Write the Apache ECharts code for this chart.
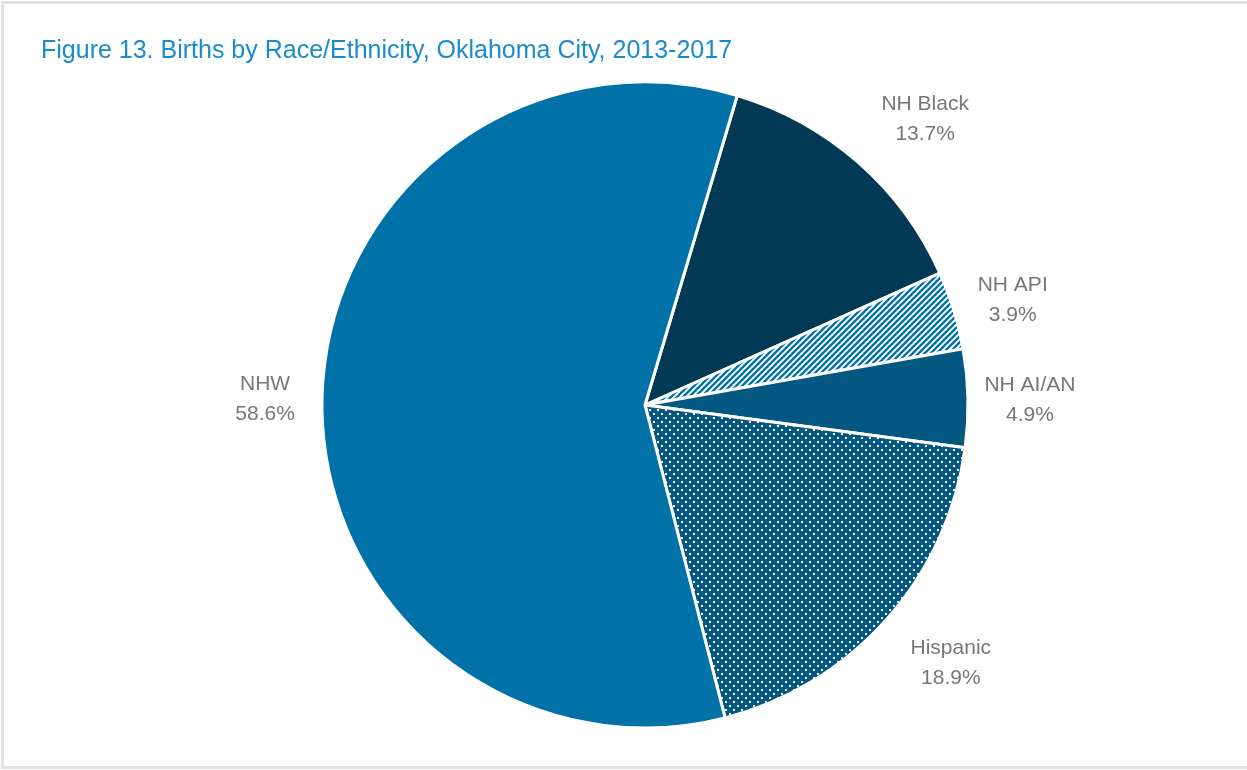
<!DOCTYPE html>
<html><head><meta charset="utf-8">
<script src="https://cdn.jsdelivr.net/npm/echarts@6/dist/echarts.min.js"></script>
<style>html,body{margin:0;padding:0;background:#fff}#c{width:1247px;height:770px}</style>
</head><body><div id="c"></div>
<script>
const categories = ['NH Black', 'NH API', 'NH AI/AN', 'Hispanic', 'NHW'];
const values = [13.7, 3.9, 4.9, 18.9, 58.6];
const title = 'Figure 13. Births by Race/Ethnicity, Oklahoma City, 2013-2017';

function dotPattern(bg, fg) {
  const c = document.createElement('canvas'); c.width = 8; c.height = 8;
  const g = c.getContext('2d');
  g.fillStyle = bg; g.fillRect(0, 0, 8, 8);
  g.fillStyle = fg; g.fillRect(1, 1, 2, 2); g.fillRect(5, 5, 2, 2);
  return { image: c, repeat: 'repeat' };
}
function stripePattern(bg, fg) {
  const s = 6;
  const c = document.createElement('canvas'); c.width = s; c.height = s;
  const g = c.getContext('2d');
  g.fillStyle = bg; g.fillRect(0, 0, s, s);
  g.strokeStyle = fg; g.lineWidth = 2.3;
  g.beginPath();
  g.moveTo(-1, s + 1); g.lineTo(s + 1, -1);
  g.moveTo(-1, 1); g.lineTo(1, -1);
  g.moveTo(s - 1, s + 1); g.lineTo(s + 1, s - 1);
  g.stroke();
  return { image: c, repeat: 'repeat' };
}
const colors = ['#023a55', stripePattern('#ffffff', '#0071a6'), '#035781', dotPattern('#035781', '#ffffff'), '#0072a8'];
const labelOffsets = [[21, 10], [-8, 10], [-8, 4], [12, -3], [13, 2]];
const font = '"Liberation Sans", Arial, sans-serif';

const chart = echarts.init(document.getElementById('c'));
chart.setOption({
  backgroundColor: '#fff',
  animation: false,
  title: { text: title, left: 36, top: 34, textStyle: { color: '#1a8bd0', fontSize: 25, fontWeight: 'normal', fontFamily: font } },
  graphic: [{ type: 'rect', shape: { x: 2.5, y: 2.5, width: 1260, height: 765 }, style: { fill: 'none', stroke: '#e2e2e2', lineWidth: 3 }, silent: true }],
  series: [
    {
      type: 'pie', center: [645, 405], radius: 323, startAngle: 73.4, clockwise: true,
      label: { show: false }, labelLine: { show: false },
      itemStyle: { borderColor: '#fff', borderWidth: 3 },
      data: categories.map((n, i) => ({ name: n, value: values[i], itemStyle: { color: colors[i] } }))
    },
    {
      type: 'pie', center: [645, 405], radius: [340, 440], startAngle: 73.4, clockwise: true, silent: true,
      itemStyle: { color: 'rgba(0,0,0,0)' },
      label: { show: true, position: 'inside', color: '#777', fontSize: 21, lineHeight: 30, fontFamily: font,
        formatter: p => p.name + '\n' + p.value.toFixed(1) + '%' },
      labelLine: { show: false },
      data: categories.map((n, i) => ({ name: n, value: values[i], label: { offset: labelOffsets[i] } }))
    }
  ]
});
</script></body></html>
